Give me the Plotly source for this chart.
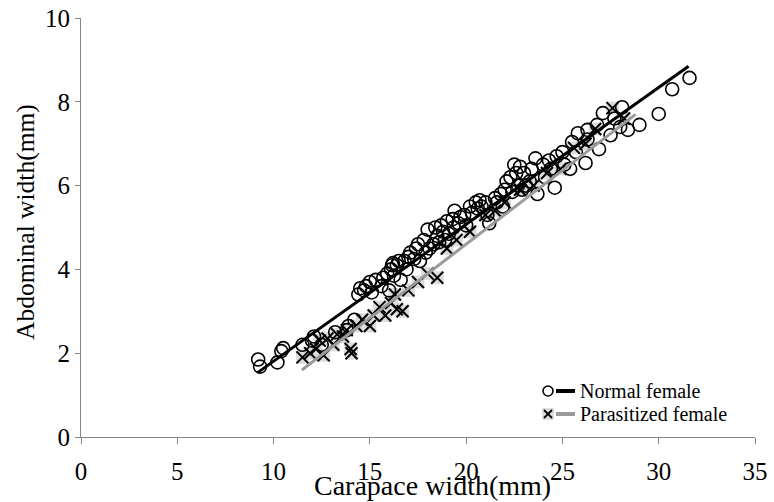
import plotly.graph_objects as go

# Normal female (circles)
normal_x = [9.2, 9.3, 10.2, 10.4, 10.5, 11.5, 12.0, 12.1, 12.5, 13.2, 13.8, 13.9, 14.2,
            14.4, 14.5, 14.7, 14.8, 15.0, 15.1, 15.3, 15.6, 15.7, 15.9, 16.0, 16.1, 16.15,
            16.2, 16.25, 16.4, 16.5, 16.6, 16.8, 16.9, 17.0, 17.1, 17.3, 17.4, 17.5, 17.6,
            17.8, 17.9, 18.0, 18.1, 18.3, 18.4, 18.5, 18.6, 18.7, 18.8, 18.9, 19.0, 19.1,
            19.3, 19.35, 19.4, 19.6, 19.7, 19.9, 20.0, 20.2, 20.3, 20.5, 20.6, 20.7, 20.8,
            21.0, 21.1, 21.2, 21.5, 21.6, 21.8, 21.9, 22.0, 22.1, 22.3, 22.4, 22.5, 22.6,
            22.7, 22.8, 22.9, 23.0, 23.1, 23.3, 23.4, 23.6, 23.7, 24.0, 24.1, 24.3, 24.4,
            24.6, 24.7, 25.0, 25.1, 25.5, 25.4, 25.8, 25.7, 26.2, 26.3, 26.3, 26.8, 26.9,
            27.1, 27.5, 27.7, 28.1, 28.0, 28.4, 29.0, 30.0, 30.7, 31.6]
normal_y = [1.85, 1.68, 1.78, 2.05, 2.12, 2.2, 2.3, 2.4, 2.2, 2.5, 2.55, 2.65, 2.8,
            3.4, 3.55, 3.5, 3.6, 3.7, 3.45, 3.75, 3.6, 3.8, 3.9, 3.5, 4.0, 4.1,
            4.15, 3.85, 4.1, 4.2, 3.75, 4.2, 4.0, 4.3, 4.4, 4.25, 4.5, 4.6, 4.2,
            4.7, 4.4, 4.95, 4.5, 4.6, 5.0, 4.8, 4.65, 5.05, 4.9, 4.7, 5.15, 4.85,
            5.2, 5.0, 5.4, 5.1, 5.25, 5.3, 5.05, 5.5, 5.35, 5.6, 5.45, 5.65, 5.5,
            5.6, 5.3, 5.1, 5.7, 5.6, 5.8, 5.5, 5.9, 6.1, 6.2, 5.85, 6.5, 6.3,
            6.0, 6.45, 5.9, 6.3, 6.0, 6.1, 6.4, 6.65, 5.8, 6.5, 6.2, 6.6, 6.4,
            5.95, 6.7, 6.8, 6.5, 7.04, 6.4, 7.25, 6.8, 6.54, 7.33, 7.1, 7.45, 6.87,
            7.73, 7.2, 7.6, 7.87, 7.4, 7.33, 7.45, 7.71, 8.3, 8.57]

# Parasitized female (crosses)
para_x = [11.5, 11.9, 12.2, 12.4, 12.6, 12.8, 13.1, 13.3, 13.6, 13.8, 14.0, 14.05, 14.3,
          14.6, 15.0, 15.2, 15.5, 15.8, 16.1, 16.3, 16.4, 16.7, 17.0, 17.5, 18.0, 18.5,
          19.0, 19.5, 20.2, 21.0, 21.5, 22.0, 22.8, 23.5, 24.2, 24.9, 25.6, 26.2, 26.7,
          27.6, 28.2]
para_y = [1.9, 2.0, 2.1, 2.3, 1.95, 2.35, 2.2, 2.45, 2.4, 2.55, 2.1, 2.0, 2.65,
          2.8, 2.65, 2.9, 3.1, 2.9, 3.2, 3.4, 3.05, 3.0, 3.5, 3.7, 3.9, 3.8,
          4.5, 4.7, 4.9, 5.3, 5.4, 5.6, 5.9, 6.0, 6.3, 6.4, 6.9, 7.0, 7.35,
          7.85, 7.6]

# Linear fit endpoints
normal_fit_x = [9.15, 31.55]
normal_fit_y = [1.53, 8.85]
para_fit_x = [11.47, 28.8]
para_fit_y = [1.6, 7.7]

x_ticks = [0, 5, 10, 15, 20, 25, 30, 35]
y_ticks = [0, 2, 4, 6, 8, 10]

FONT = "Liberation Serif"

fig = go.Figure()
fig.add_trace(go.Scatter(x=para_x, y=para_y, mode="markers", showlegend=False,
                         marker=dict(symbol="square", size=13, color="#dcdcdc",
                                     line=dict(width=0))))
fig.add_trace(go.Scatter(x=para_x, y=para_y, mode="markers", showlegend=False,
                         marker=dict(symbol="x-thin-open", size=12, color="black",
                                     line=dict(width=2, color="black"))))
fig.add_trace(go.Scatter(x=normal_x, y=normal_y, mode="markers", showlegend=False,
                         marker=dict(symbol="circle-open", size=13, color="black",
                                     line=dict(width=1.6, color="black"))))
fig.add_trace(go.Scatter(x=normal_fit_x, y=normal_fit_y, mode="lines", showlegend=False,
                         line=dict(color="black", width=3)))
fig.add_trace(go.Scatter(x=para_fit_x, y=para_fit_y, mode="lines", showlegend=False,
                         line=dict(color="#9a9a9a", width=3)))

# plot area in pixels: left 81, right 755, top 18, bottom 437
def px(xp):
    return (xp - 81) / 674.0

def py(yp):
    return (437 - yp) / 419.0

shapes = []
# legend row 1
shapes.append(dict(type="circle", xref="paper", yref="paper",
                   x0=px(543), x1=px(553), y0=py(396), y1=py(386),
                   line=dict(color="black", width=1.6)))
shapes.append(dict(type="line", xref="paper", yref="paper",
                   x0=px(556), x1=px(575), y0=py(391), y1=py(391),
                   line=dict(color="black", width=4)))
# legend row 2
shapes.append(dict(type="rect", xref="paper", yref="paper",
                   x0=px(542), x1=px(554), y0=py(420), y1=py(408),
                   fillcolor="#dcdcdc", line=dict(width=0)))
shapes.append(dict(type="line", xref="paper", yref="paper",
                   x0=px(544), x1=px(552), y0=py(418), y1=py(410),
                   line=dict(color="black", width=1.8)))
shapes.append(dict(type="line", xref="paper", yref="paper",
                   x0=px(544), x1=px(552), y0=py(410), y1=py(418),
                   line=dict(color="black", width=1.8)))
shapes.append(dict(type="line", xref="paper", yref="paper",
                   x0=px(556), x1=px(575), y0=py(414), y1=py(414),
                   line=dict(color="#9a9a9a", width=4)))

annotations = [
    dict(text="Normal female", xref="paper", yref="paper", x=px(578), y=py(391),
         xanchor="left", yanchor="middle", showarrow=False,
         font=dict(family=FONT, size=20, color="black")),
    dict(text="Parasitized female", xref="paper", yref="paper", x=px(578), y=py(414),
         xanchor="left", yanchor="middle", showarrow=False,
         font=dict(family=FONT, size=20, color="black")),
    dict(text="Carapace width(mm)", xref="paper", yref="paper", x=px(432), y=py(485),
         xanchor="center", yanchor="middle", showarrow=False,
         font=dict(family=FONT, size=28, color="black")),
    dict(text="Abdominal width(mm)", xref="paper", yref="paper", x=px(25), y=py(222),
         xanchor="center", yanchor="middle", showarrow=False, textangle=-90,
         font=dict(family=FONT, size=25.5, color="black")),
]

fig.update_layout(
    width=774, height=502,
    margin=dict(l=81, r=19, t=18, b=65, autoexpand=False),
    paper_bgcolor="white", plot_bgcolor="white",
    font=dict(family=FONT, size=25, color="black"),
    shapes=shapes, annotations=annotations,
    showlegend=False,
)
fig.update_xaxes(range=[0, 35], tickvals=x_ticks, ticktext=[str(v) for v in x_ticks],
                 showgrid=False, zeroline=False, showline=True, linecolor="#868686",
                 linewidth=1, ticks="outside", ticklen=6, tickcolor="#868686",
                 ticklabelstandoff=6, tickfont=dict(family=FONT, size=25),
                 automargin=False)
fig.update_yaxes(range=[0, 10], tickvals=y_ticks, ticktext=[str(v) for v in y_ticks],
                 showgrid=False, zeroline=False, showline=True, linecolor="#868686",
                 linewidth=1, ticks="outside", ticklen=5, tickcolor="#868686",
                 ticklabelstandoff=0, tickfont=dict(family=FONT, size=25),
                 automargin=False)

fig.write_html("out.html", config={"displayModeBar": False},
               post_script="document.body.style.margin='0px';document.body.style.overflow='hidden';")
